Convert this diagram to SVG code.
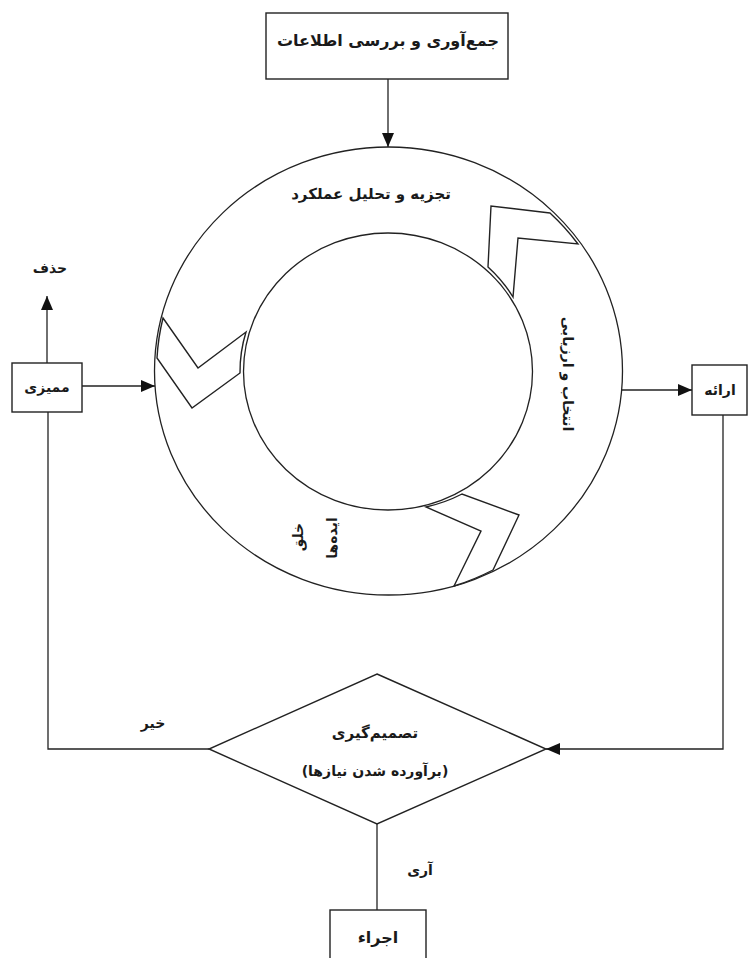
<svg xmlns="http://www.w3.org/2000/svg" width="752" height="958" viewBox="0 0 752 958">
<defs>
<marker id="arr" markerUnits="userSpaceOnUse" markerWidth="14" markerHeight="12" refX="14" refY="6" orient="auto">
<path d="M0,0 L14,6 L0,12 Z" fill="#111"/>
</marker>
<style>
.box{fill:#fff;stroke:#222;stroke-width:1.4}
.ln{fill:none;stroke:#222;stroke-width:1.3}
.ring{fill:none;stroke:#222;stroke-width:1.3}
.chev{fill:#fff;stroke:#222;stroke-width:1.4;stroke-linejoin:miter}
.t{font-family:"DejaVu Sans",sans-serif;font-weight:bold;fill:#1a1a1a;text-anchor:middle;direction:rtl}
</style>
</defs>
<rect width="752" height="958" fill="#fff"/>

<g id="cycle">
<ellipse class="ring" cx="388.5" cy="371" rx="234" ry="224"/>
<ellipse class="ring" cx="388" cy="371.5" rx="144.5" ry="138.5"/>
<path class="chev" d="M550,213 L491,206 L488,267 A144.5,138.5 0 0 1 513,297 L518,238 L578,244 A234,224 0 0 0 550,213 Z"/>
<path class="chev" d="M163,318 L198,368 L246,332 A144.5,138.5 0 0 0 240,373 L192,408 L157,358 A234,224 0 0 1 163,318 Z"/>
<path class="chev" d="M426,507 A144.5,138.5 0 0 0 462,494 L519,515 L493,570 A234,224 0 0 1 454,586 L481,531 Z"/>
<text class="t" x="371" y="199" font-size="15">تجزیه و تحلیل عملکرد</text>
<text class="t" font-size="14" dominant-baseline="central" transform="translate(568,374) rotate(90)">انتخاب و ارزیابی</text>
<text class="t" font-size="14" dominant-baseline="central" transform="translate(298,537) rotate(-90)">خلق</text>
<text class="t" font-size="14" dominant-baseline="central" transform="translate(332,538) rotate(-90)">ایده‌ها</text>
</g>

<g id="collect">
<rect class="box" x="266" y="13" width="242" height="66"/>
<text class="t" x="388" y="46" font-size="16">جمع‌آوری و بررسی اطلاعات</text>
</g>

<g id="mamizi">
<rect class="box" x="12" y="363" width="70" height="49"/>
<text class="t" x="47" y="392" font-size="14">ممیزی</text>
</g>

<g id="hazf">
<text class="t" x="50" y="273" font-size="14">حذف</text>
</g>

<g id="erae">
<rect class="box" x="692" y="365" width="55" height="50"/>
<text class="t" x="720" y="395" font-size="14">ارائه</text>
</g>

<g id="decision">
<path class="box" d="M377,674 L546,749 L377,824 L209,749 Z"/>
<text class="t" x="375" y="738" font-size="15">تصمیم‌گیری</text>
<text class="t" x="375" y="776" font-size="14">(برآورده شدن نیازها)</text>
</g>

<g id="ejra">
<rect class="box" x="330" y="910" width="96" height="60"/>
<text class="t" x="378" y="943" font-size="16">اجراء</text>
</g>

<g id="connectors">
<path class="ln" d="M388,79 V147" marker-end="url(#arr)"/>
<path class="ln" d="M82,386 H155" marker-end="url(#arr)"/>
<path class="ln" d="M47,363 V296" marker-end="url(#arr)"/>
<path class="ln" d="M622,390 H692" marker-end="url(#arr)"/>
<path class="ln" d="M723,415 V749 H546" marker-end="url(#arr)"/>
<path class="ln" d="M48,412 V749 H209"/>
<path class="ln" d="M377,824 V910"/>
<text class="t" x="153" y="728" font-size="14">خیر</text>
<text class="t" x="420" y="875" font-size="14">آری</text>
</g>
</svg>
